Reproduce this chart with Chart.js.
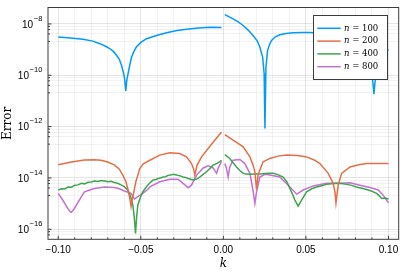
<!DOCTYPE html>
<html><head><meta charset="utf-8">
<script src="https://cdn.jsdelivr.net/npm/chart.js@4/dist/chart.umd.min.js"></script>
<style>html,body{margin:0;padding:0;background:#fff}canvas{display:block}</style>
</head><body>
<canvas id="c" width="407" height="271"></canvas>
<script>
// ---- data ----
const seriesLabels = ['n = 100', 'n = 200', 'n = 400', 'n = 800'];
const seriesColors = ['#009AFA', '#E36F47', '#3EA44E', '#C371D2'];

const k100 = [-0.1000,-0.0925,-0.0850,-0.0790,-0.0748,-0.0710,-0.0688,-0.0665,-0.0647,-0.0630,-0.0617,-0.0605,-0.0598,-0.0591,-0.0585,-0.0577,-0.0566,-0.0556,-0.0540,-0.0527,-0.0500,-0.0465,-0.0400,-0.0344,-0.0280,-0.0223,-0.0150,-0.0082,-0.0011,0,
  0.0009,0.0059,0.0090,0.0120,0.0150,0.0180,0.0205,0.0221,0.0238,0.0247,0.0252,0.0258,0.0268,0.0280,0.0292,0.0315,0.0342,0.0380,0.0423,0.0480,0.0524,0.0600,0.0640,0.0700,0.0760,0.0800,0.0840,0.0875,0.0899,0.0906,0.0912,0.0918,0.0925,0.0950,0.0980,0.1000];
const err100 = [3.09e-9,2.82e-9,2.51e-9,2.14e-9,1.70e-9,1.32e-9,1.10e-9,8.32e-10,6.03e-10,4.17e-10,2.45e-10,1.26e-10,7.08e-11,2.45e-11,6.31e-11,1.15e-10,2.63e-10,5.13e-10,8.91e-10,1.26e-9,1.91e-9,2.66e-9,3.63e-9,4.57e-9,5.50e-9,6.17e-9,6.92e-9,7.41e-9,7.24e-9,null,
  2.29e-8,1.58e-8,1.20e-8,8.71e-9,5.75e-9,3.55e-9,2.19e-9,1.26e-9,5.13e-10,1.15e-10,8.51e-13,2.09e-10,9.33e-10,1.58e-9,2.29e-9,3.16e-9,3.80e-9,4.27e-9,4.57e-9,4.68e-9,4.68e-9,4.37e-9,3.98e-9,3.16e-9,2.34e-9,1.78e-9,1.12e-9,5.01e-10,1.26e-10,5.01e-11,1.82e-11,5.01e-11,1.26e-10,3.98e-10,7.59e-10,1.02e-9];

const k200 = [-0.1000,-0.0920,-0.0841,-0.0780,-0.0741,-0.0700,-0.0659,-0.0630,-0.0609,-0.0590,-0.0579,-0.0568,-0.0559,-0.0550,-0.0542,-0.0530,-0.0518,-0.0506,-0.0485,-0.0445,-0.0385,-0.0324,-0.0264,-0.0223,-0.0193,-0.0180,-0.0173,-0.0166,-0.0159,-0.0132,-0.0092,-0.0052,-0.0011,0,
  0.0009,0.0059,0.0120,0.0161,0.0180,0.0191,0.0201,0.0210,0.0217,0.0241,0.0282,0.0330,0.0383,0.0450,0.0504,0.0550,0.0585,0.0635,0.0665,0.0676,0.0682,0.0690,0.0696,0.0716,0.0767,0.0820,0.0868,0.0940,0.1000];
const err200 = [3.24e-14,4.17e-14,5.01e-14,5.13e-14,4.90e-14,4.17e-14,3.16e-14,2.19e-14,1.29e-14,7.08e-15,3.89e-15,1.78e-15,7.59e-16,1.66e-15,2.88e-15,7.08e-15,1.29e-14,2.34e-14,3.55e-14,4.90e-14,7.76e-14,9.55e-14,8.91e-14,6.61e-14,3.63e-14,2.24e-14,1.29e-14,2.00e-14,3.16e-14,6.61e-14,1.41e-13,2.95e-13,6.17e-13,null,
  4.90e-13,2.95e-13,1.62e-13,6.61e-14,3.16e-14,1.74e-14,3.55e-15,1.26e-14,1.74e-14,4.27e-14,5.75e-14,7.08e-14,7.76e-14,7.41e-14,6.61e-14,5.01e-14,3.63e-14,1.51e-14,6.17e-15,2.82e-15,1.07e-15,2.82e-15,5.24e-15,1.51e-14,2.69e-14,3.24e-14,3.63e-14,3.63e-14,3.63e-14];

const k400 = [-0.100,-0.098,-0.096,-0.094,-0.092,-0.090,-0.088,-0.086,-0.084,-0.082,-0.080,-0.078,-0.076,-0.074,-0.072,-0.070,-0.068,-0.066,-0.064,-0.062,-0.060,-0.058,-0.0569,-0.0558,-0.0548,-0.0540,-0.0532,-0.0525,-0.0518,-0.0505,-0.0488,-0.0470,-0.0458,-0.0440,-0.0425,-0.0410,-0.0395,-0.0380,-0.0365,-0.0350,-0.0335,-0.0320,-0.0304,-0.0290,-0.0274,-0.0260,-0.0244,-0.0228,-0.0213,-0.0198,-0.0183,-0.0165,-0.0153,-0.0130,-0.0102,-0.0080,-0.0062,-0.0035,-0.0011,0,
  0.0009,0.0039,0.0060,0.0080,0.0100,0.0120,0.0140,0.0161,0.0190,0.0221,0.0250,0.0282,0.0302,0.0330,0.0362,0.0385,0.0403,0.0420,0.0433,0.0453,0.0474,0.0504,0.0535,0.0565,0.0595,0.0625,0.0655,0.0686,0.0715,0.0747,0.0777,0.0807,0.0838,0.0868,0.0900,0.0928,0.0945,0.0959,0.0980,0.1000];
const err400 = [3.39e-15,3.80e-15,3.71e-15,4.47e-15,4.37e-15,5.24e-15,5.37e-15,6.17e-15,5.89e-15,6.76e-15,6.92e-15,7.59e-15,7.24e-15,7.94e-15,7.59e-15,7.08e-15,7.41e-15,6.61e-15,6.17e-15,5.37e-15,4.57e-15,3.39e-15,2.51e-15,1.58e-15,8.71e-16,3.16e-16,6.92e-17,3.16e-16,8.71e-16,1.58e-15,2.88e-15,4.17e-15,5.24e-15,6.92e-15,8.31e-15,8.71e-15,9.55e-15,1.00e-14,1.09e-14,1.12e-14,1.26e-14,1.29e-14,1.38e-14,1.32e-14,1.26e-14,1.20e-14,1.09e-14,1.05e-14,9.55e-15,8.91e-15,8.31e-15,8.91e-15,9.55e-15,1.26e-14,1.74e-14,2.40e-14,3.16e-14,3.80e-14,4.89e-14,null,
  8.13e-14,5.75e-14,3.80e-14,2.69e-14,1.95e-14,1.51e-14,1.41e-14,1.38e-14,1.44e-14,1.41e-14,1.48e-14,1.51e-14,1.51e-14,1.35e-14,1.09e-14,7.08e-15,3.89e-15,2.24e-15,1.38e-15,7.94e-16,1.38e-15,2.88e-15,3.80e-15,4.47e-15,5.01e-15,5.62e-15,5.89e-15,6.17e-15,6.03e-15,5.62e-15,5.13e-15,4.47e-15,3.98e-15,3.55e-15,3.02e-15,2.51e-15,2.00e-15,1.58e-15,1.66e-15,1.51e-15];

const k800 = [-0.1000,-0.0973,-0.0955,-0.0942,-0.0930,-0.0922,-0.0912,-0.0902,-0.0887,-0.0872,-0.0855,-0.0841,-0.0810,-0.0781,-0.0750,-0.0720,-0.0690,-0.0659,-0.0630,-0.0599,-0.0559,-0.0538,-0.0518,-0.0488,-0.0458,-0.0445,-0.0385,-0.0324,-0.0274,-0.0244,-0.0213,-0.0193,-0.0162,-0.0122,-0.0092,-0.0062,-0.0041,-0.0032,-0.0011,0,
  0.0009,0.0019,0.0029,0.0039,0.0059,0.0100,0.0130,0.0161,0.0181,0.0191,0.0201,0.0221,0.0252,0.0282,0.0342,0.0393,0.0444,0.0484,0.0544,0.0625,0.0706,0.0767,0.0827,0.0888,0.0938,0.0968,0.1000];
const err800 = [2.51e-15,1.38e-15,8.91e-16,6.46e-16,5.01e-16,4.57e-16,5.25e-16,6.46e-16,9.55e-16,1.38e-15,2.09e-15,2.88e-15,3.39e-15,3.89e-15,4.17e-15,4.47e-15,4.37e-15,4.27e-15,3.80e-15,3.09e-15,2.51e-15,1.51e-15,1.87e-15,2.51e-15,3.55e-15,4.47e-15,7.08e-15,8.91e-15,8.91e-15,6.17e-15,4.17e-15,5.24e-15,1.29e-14,2.45e-14,2.95e-14,2.45e-14,1.51e-14,2.34e-14,4.47e-14,null,
  3.63e-14,2.34e-14,1.09e-14,2.69e-14,4.89e-14,5.24e-14,3.63e-14,1.51e-14,2.88e-15,1.02e-15,2.88e-15,1.09e-14,1.38e-14,1.29e-14,1.09e-14,5.24e-15,2.34e-15,3.39e-15,4.89e-15,6.17e-15,6.17e-15,6.46e-15,5.24e-15,4.27e-15,3.39e-15,2.14e-15,1.07e-15];

const xTickValues = [-0.10, -0.05, 0.00, 0.05, 0.10];
const xTickLabels = ['\u22120.10', '\u22120.05', '0.00', '0.05', '0.10'];
const yTickExponents = [-16, -14, -12, -10, -8];
const xTitle = 'k';
const yTitle = 'Error';

// ---- build ----
const kArrays = [k100, k200, k400, k800];
const eArrays = [err100, err200, err400, err800];
const datasets = seriesLabels.map((lab, i) => ({
  label: lab,
  data: kArrays[i].map((k, j) => ({x: k, y: eArrays[i][j]})),
  borderColor: seriesColors[i],
  backgroundColor: seriesColors[i],
  borderWidth: 1.5,
  pointRadius: 0,
  tension: 0,
  spanGaps: false,
  fill: false
}));

function withMinors(majors, n) {
  const out = [];
  for (let i = 0; i < majors.length; i++) {
    out.push({value: majors[i], minor: false});
    if (i < majors.length - 1) {
      for (let m = 1; m < n; m++) out.push({value: majors[i] + (majors[i+1]-majors[i]) * m / n, minor: true});
    }
  }
  return out;
}

const frameColor = '#3c3c3c';
const decor = {
  id: 'decor',
  afterDatasetsDraw(chart) {
    const ctx = chart.ctx, a = chart.chartArea;
    const xs = chart.scales.x, ys = chart.scales.y;
    ctx.save();
    // frame
    ctx.strokeStyle = frameColor; ctx.lineWidth = 1;
    ctx.strokeRect(a.left, a.top, a.right - a.left, a.bottom - a.top);
    // inward ticks
    ctx.beginPath();
    xs.ticks.forEach(t => {
      const px = xs.getPixelForValue(t.value);
      if (px < a.left - 0.5 || px > a.right + 0.5) return;
      const len = t.minor ? 2 : 3.5;
      ctx.moveTo(px, a.bottom); ctx.lineTo(px, a.bottom - len);
    });
    ys.ticks.forEach(t => {
      const py = ys.getPixelForValue(t.value);
      if (py < a.top - 0.5 || py > a.bottom + 0.5) return;
      const len = t.minor ? 2 : 3.5;
      ctx.moveTo(a.left, py); ctx.lineTo(a.left + len, py);
    });
    ctx.stroke();
    // y tick labels 10^e
    ctx.fillStyle = '#000'; ctx.textAlign = 'left'; ctx.textBaseline = 'alphabetic';
    yTickExponents.forEach(e => {
      const py = ys.getPixelForValue(Math.pow(10, e));
      const sup = (e < 0 ? '\u2212' : '') + Math.abs(e);
      ctx.font = '7.5px "Liberation Sans", Arial, sans-serif';
      const wS = ctx.measureText(sup).width;
      ctx.font = '10px "Liberation Sans", Arial, sans-serif';
      const wB = ctx.measureText('10').width;
      const right = a.left - 5.7;
      ctx.fillText('10', right - wS - 0.6 - wB, py + 3.6);
      ctx.font = '7.5px "Liberation Sans", Arial, sans-serif';
      ctx.fillText(sup, right - wS, py - 3.4);
    });
    // legend
    const lx = 313.5, ly = 15.5, lw = 74, lh = 64;
    ctx.fillStyle = '#fff';
    ctx.fillRect(lx, ly, lw, lh);
    ctx.strokeStyle = frameColor; ctx.lineWidth = 1;
    ctx.strokeRect(lx, ly, lw, lh);
    chart.data.datasets.forEach((ds, i) => {
      const y = 28.3 + i * 12.8;
      ctx.strokeStyle = ds.borderColor; ctx.lineWidth = 1.5;
      ctx.beginPath(); ctx.moveTo(317.3, y); ctx.lineTo(340.7, y); ctx.stroke();
      const sp = ds.label.indexOf(' ');
      const v = ds.label.slice(0, sp), rest = ds.label.slice(sp);
      ctx.fillStyle = '#000'; ctx.textBaseline = 'middle'; ctx.textAlign = 'left';
      ctx.font = 'italic 8.5px "DejaVu Serif", serif';
      ctx.fillText(v, 344, y);
      const w = ctx.measureText(v).width;
      ctx.font = '8.5px "DejaVu Serif", serif';
      ctx.fillText(rest, 344 + w, y);
    });
    ctx.restore();
  }
};

new Chart(document.getElementById('c'), {
  type: 'line',
  data: {datasets},
  plugins: [decor],
  options: {
    responsive: false,
    animation: false,
    devicePixelRatio: 1,
    layout: {padding: {left: 0, right: 8.3, top: 7.5, bottom: 0}},
    plugins: {legend: {display: false}, tooltip: {enabled: false}},
    scales: {
      x: {
        type: 'linear', min: -0.1062, max: 0.1062,
        afterBuildTicks: s => { s.ticks = withMinors(xTickValues, 5); },
        afterFit: s => { s.height = 31.7; },
        grid: {
          drawTicks: false,
          color: c => (c.tick && c.tick.minor) ? 'rgba(0,0,0,0.05)' : 'rgba(0,0,0,0.1)',
          lineWidth: 1
        },
        border: {display: false},
        ticks: {
          autoSkip: false, maxRotation: 0, padding: 5,
          color: '#000',
          font: {family: '"Liberation Sans", Arial, sans-serif', size: 10},
          callback: function(v, i, ticks) {
            const t = ticks[i];
            if (t.minor) return '';
            const idx = xTickValues.findIndex(x => Math.abs(x - v) < 1e-9);
            return idx >= 0 ? xTickLabels[idx] : '';
          }
        },
        title: {display: true, text: xTitle, padding: {top: 0, bottom: 0}, color: '#000',
          font: {family: '"DejaVu Serif", serif', size: 12, style: 'italic'}}
      },
      y: {
        type: 'logarithmic', min: Math.pow(10, -16.39), max: Math.pow(10, -7.36),
        afterBuildTicks: s => {
          const majors = [-18].concat(yTickExponents).concat([-6]).map(e => Math.pow(10, e));
          s.ticks = withMinors(majors, 5).filter(t => t.value >= s.min && t.value <= s.max);
        },
        afterFit: s => { s.width = 48; },
        grid: {
          drawTicks: false,
          color: c => (c.tick && c.tick.minor) ? 'rgba(0,0,0,0.05)' : 'rgba(0,0,0,0.1)',
          lineWidth: 1
        },
        border: {display: false},
        ticks: {display: false, autoSkip: false},
        title: {display: true, text: yTitle, padding: {top: 1, bottom: 0}, color: '#000',
          font: {family: '"DejaVu Serif", serif', size: 12}}
      }
    }
  }
});
</script>
</body></html>
